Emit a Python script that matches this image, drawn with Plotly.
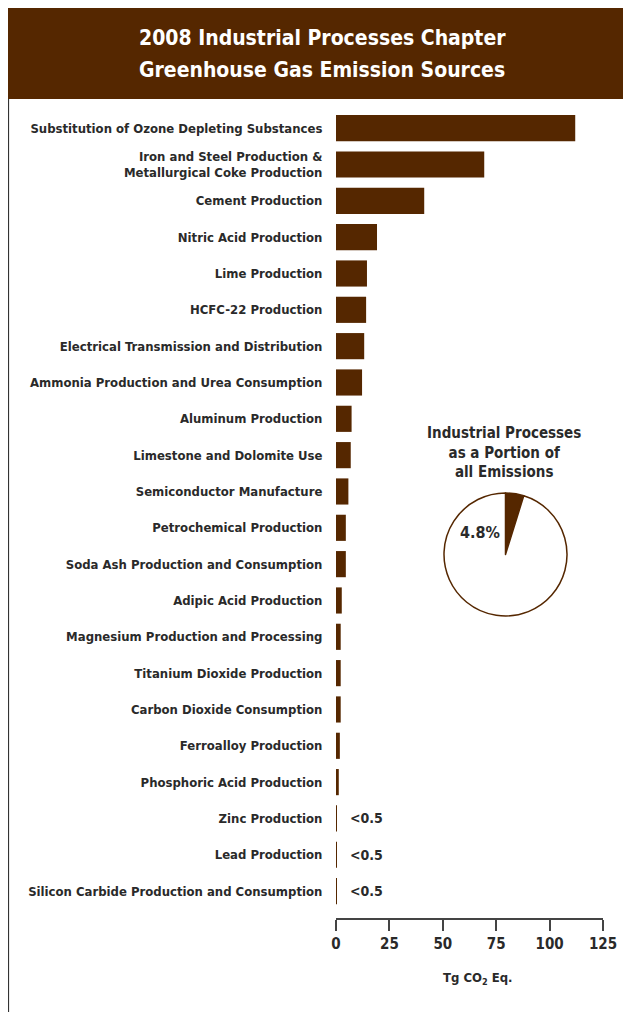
import plotly.graph_objects as go

categories = [
    "Substitution of Ozone Depleting Substances",
    "Iron and Steel Production &<br>Metallurgical Coke Production",
    "Cement Production",
    "Nitric Acid Production",
    "Lime Production",
    "HCFC-22 Production",
    "Electrical Transmission and Distribution",
    "Ammonia Production and Urea Consumption",
    "Aluminum Production",
    "Limestone and Dolomite Use",
    "Semiconductor Manufacture",
    "Petrochemical Production",
    "Soda Ash Production and Consumption",
    "Adipic Acid Production",
    "Magnesium Production and Processing",
    "Titanium Dioxide Production",
    "Carbon Dioxide Consumption",
    "Ferroalloy Production",
    "Phosphoric Acid Production",
    "Zinc Production",
    "Lead Production",
    "Silicon Carbide Production and Consumption",
]
values = [112.0, 69.4, 41.3, 19.2, 14.5, 14.1, 13.2, 12.2, 7.3, 6.9, 5.8, 4.6, 4.6,
          2.7, 2.2, 2.2, 2.2, 1.8, 1.3, 0.4, 0.4, 0.4]
small_labels = ["", "", "", "", "", "", "", "", "", "", "", "", "", "", "", "", "", "", "",
                "<0.5", "<0.5", "<0.5"]
x_ticks = [0, 25, 50, 75, 100, 125]
pie_values = [4.8, 95.2]
pie_label = "4.8%"

BROWN = "#552700"
TEXT = "#2a2a2a"
FONT = "DejaVu Sans Condensed, Liberation Sans Narrow, Arial Narrow, sans-serif"

OFF = 8  # page body margin
W, H = 631 - OFF, 1012 - OFF
ML, MR, MT, MB = 336 - OFF, 28, 110 - OFF, 94
PW, PH = W - ML - MR, H - MT - MB


def px(x):
    return (x - OFF - ML) / PW


def py(y):
    return (H - MB - (y - OFF)) / PH


fig = go.Figure()
fig.add_trace(go.Bar(
    x=values, y=categories, orientation="h",
    marker=dict(color=BROWN, line=dict(width=0)),
    width=0.72, showlegend=False, hoverinfo="x+y",
))

fig.add_trace(go.Pie(
    values=pie_values, sort=False, direction="clockwise", rotation=0,
    marker=dict(colors=[BROWN, "white"], line=dict(color=BROWN, width=1.5)),
    textinfo="none", showlegend=False, hole=0,
    domain=dict(x=[px(444), px(567)], y=[py(616), py(493)]),
))

annotations = []
for cat, lab in zip(categories, small_labels):
    if lab:
        annotations.append(dict(x=5.4, y=cat, xref="x", yref="y", text="<b>" + lab + "</b>",
                                showarrow=False, xanchor="left", yanchor="middle",
                                font=dict(family=FONT, size=14, color=TEXT)))

annotations += [
    dict(x=px(322), y=py(38), xref="paper", yref="paper",
         text="<b>2008 Industrial Processes Chapter</b>", showarrow=False,
         font=dict(family=FONT, size=21, color="white"), xanchor="center", yanchor="middle"),
    dict(x=px(322), y=py(70), xref="paper", yref="paper",
         text="<b>Greenhouse Gas Emission Sources</b>", showarrow=False,
         font=dict(family=FONT, size=21, color="white"), xanchor="center", yanchor="middle"),
    dict(x=px(504), y=py(452), xref="paper", yref="paper",
         text="<b>Industrial Processes<br>as a Portion of<br>all Emissions</b>", showarrow=False,
         font=dict(family=FONT, size=15, color=TEXT), xanchor="center", yanchor="middle"),
    dict(x=px(480), y=py(532), xref="paper", yref="paper",
         text="<b>" + pie_label + "</b>", showarrow=False,
         font=dict(family=FONT, size=16, color=TEXT), xanchor="center", yanchor="middle"),
    dict(x=px(478), y=py(978), xref="paper", yref="paper",
         text="<b>Tg CO<sub>2</sub> Eq.</b>", showarrow=False,
         font=dict(family=FONT, size=13, color=TEXT), xanchor="center", yanchor="middle"),
]

shapes = [
    dict(type="rect", xref="paper", yref="paper", x0=px(8), x1=px(640), y0=py(99), y1=py(7),
         fillcolor=BROWN, line=dict(width=0), layer="below"),
    dict(type="line", xref="paper", yref="paper", x0=px(8.5), x1=px(8.5), y0=py(99), y1=py(1020),
         line=dict(color="#333333", width=1.2)),
]

fig.update_layout(
    width=W, height=H,
    margin=dict(l=ML, r=MR, t=MT, b=MB, autoexpand=False),
    paper_bgcolor="white", plot_bgcolor="white",
    font=dict(family=FONT, color=TEXT),
    annotations=annotations, shapes=shapes,
    xaxis=dict(range=[0, 125], tickvals=x_ticks, ticktext=["<b>%d</b>" % v for v in x_ticks],
               showgrid=False, zeroline=False, showline=True, linecolor="#444444", linewidth=1.5,
               ticks="outside", ticklen=11, tickwidth=1.5, tickcolor="#444444", automargin=False,
               tickfont=dict(family=FONT, size=15, color=TEXT), fixedrange=True),
    yaxis=dict(type="category", categoryorder="array", categoryarray=categories,
               range=[21.74, -0.5], showgrid=False, zeroline=False, showline=False,
               ticks="outside", ticklen=10, tickcolor="rgba(0,0,0,0)", automargin=False,
               ticktext=["<b>%s</b>" % c for c in categories], tickvals=categories,
               tickfont=dict(family=FONT, size=13, color=TEXT), fixedrange=True),
)

fig.write_html("out.html")
